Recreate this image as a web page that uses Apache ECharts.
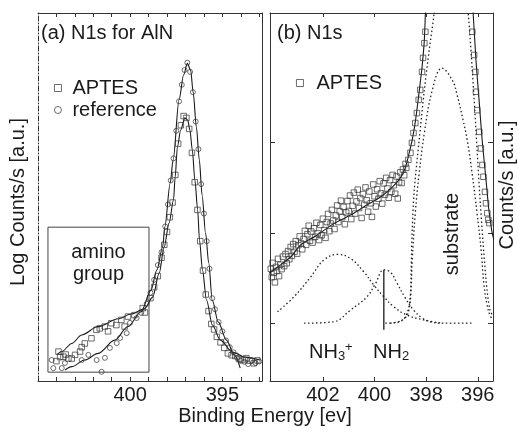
<!DOCTYPE html>
<html>
<head>
<meta charset="utf-8">
<script src="https://cdn.jsdelivr.net/npm/echarts@6/dist/echarts.min.js"></script>
<style>
  html, body { margin: 0; padding: 0; background: #fff; }
  #main { width: 518px; height: 434px; }
</style>
</head>
<body>
<div id="main"></div>
<script>
// panel (a): binding energy [eV], log counts in % of panel height
var aAptesPts = [
    [404.0, 5.4], [403.89, 8.0], [403.8, 6.5], [403.62, 6.6], [403.5, 7.2], [403.35, 6.1], [403.17, 6.1],
    [402.99, 7.1], [402.72, 8.0], [402.63, 9.2], [402.46, 10.2], [402.1, 11.6], [401.83, 13.9],
    [401.65, 14.3], [401.38, 14.8], [401.2, 13.5], [401.02, 15.7], [400.75, 15.2], [400.48, 16.6],
    [400.3, 14.8], [400.12, 17.5], [399.77, 17.9], [399.32, 19.8], [399.2, 18.6],
    [398.9, 22.5], [398.7, 25.5], [398.5, 28.5], [398.3, 33.5], [398.15, 37.0], [398.0, 40.5],
    [397.85, 44.5], [397.7, 48.5], [397.55, 56.0], [397.4, 64.5], [397.25, 69.5], [397.1, 72.0],
    [396.95, 71.5], [396.8, 68.5], [396.65, 62.0], [396.5, 54.0], [396.35, 46.5], [396.2, 38.0],
    [396.05, 30.0], [395.9, 23.5], [395.75, 19.0], [395.6, 15.5], [395.45, 14.0], [395.3, 12.0],
    [395.1, 10.5], [394.9, 9.0], [394.7, 7.5], [394.5, 7.0], [394.3, 6.8], [394.1, 6.0],
    [393.9, 5.7], [393.7, 6.2], [393.5, 5.5], [393.3, 4.8], [393.1, 5.6]
];
var aRefPts = [
    [404.26, 5.7], [404.17, 3.5], [403.71, 3.5], [403.54, 4.9], [402.63, 5.7], [402.27, 7.1],
    [401.82, 5.7], [401.55, 2.5], [401.37, 6.3], [401.1, 9.0], [400.73, 10.3], [400.55, 11.7],
    [400.19, 13.0], [400.01, 15.8], [399.65, 17.1],
    [399.4, 18.5], [399.1, 21.0], [398.9, 24.0], [398.7, 27.5], [398.5, 31.5], [398.3, 35.0],
    [398.1, 42.0], [397.95, 48.0], [397.8, 54.5], [397.65, 60.5], [397.5, 68.0], [397.35, 76.0],
    [397.2, 80.5], [397.05, 84.5], [396.9, 86.5], [396.75, 84.0], [396.6, 78.5], [396.45, 70.5],
    [396.3, 63.0], [396.15, 53.5], [396.0, 45.5], [395.85, 38.0], [395.7, 30.5], [395.55, 22.5],
    [395.4, 19.5], [395.2, 16.0], [395.0, 13.5], [394.8, 11.0], [394.6, 9.2], [394.4, 7.8],
    [394.2, 6.3], [394.0, 5.5], [393.8, 5.2], [393.6, 4.6], [393.4, 5.6], [393.2, 4.9], [393.0, 5.3]
];
var aAptesFit = [
    [403.98, 7.1], [403.71, 8.0], [403.17, 10.2], [402.63, 12.5], [401.74, 14.8], [400.65, 16.9],
    [399.95, 18.2], [399.23, 19.6], [398.78, 22.8], [398.42, 29.4], [398.16, 36.4], [397.89, 42.9],
    [397.65, 49.2], [397.56, 55.4], [397.44, 63.6], [397.26, 68.2], [397.03, 71.5], [396.88, 70.9],
    [396.76, 68.2], [396.63, 62.8], [396.49, 54.6], [396.34, 46.5], [396.24, 38.3], [396.08, 30.2],
    [395.86, 22.0], [395.54, 15.2], [395.11, 11.1], [394.46, 7.9], [393.76, 6.5], [392.96, 5.7]
];
var aRefFit = [
    [403.53, 3.0], [403.17, 3.9], [402.46, 5.7], [401.74, 7.5], [400.84, 11.1], [400.12, 14.8],
    [399.41, 18.8], [398.87, 24.7], [398.55, 30.2], [398.24, 36.4], [398.12, 41.9], [397.83, 53.8],
    [397.67, 60.1], [397.35, 76.4], [397.1, 83.2], [396.9, 86.3], [396.72, 84.5], [396.58, 78.3],
    [396.41, 69.0], [396.25, 60.1], [396.1, 50.5], [395.91, 40.2], [395.74, 32.1], [395.55, 22.0],
    [395.22, 16.0], [394.78, 11.1], [394.35, 7.1], [394.03, 3.5]
];
var aminoBox = [[404.46, 41.8], [398.98, 2.4]];

// panel (b): counts in % of panel height
var bAptesPts = [
    [404.02, 30.5], [403.98, 28.2], [403.95, 32.1], [403.9, 29.4], [403.86, 26.8], [403.82, 31.0],
    [403.78, 29.9], [403.74, 33.2], [403.7, 28.5], [403.65, 31.6], [403.6, 30.4], [403.55, 33.8],
    [403.5, 31.2], [403.45, 34.5], [403.4, 32.0], [403.35, 35.3], [403.3, 33.1], [403.25, 36.4],
    [403.2, 34.0], [403.15, 37.2], [403.1, 35.1], [403.05, 38.0], [403.0, 34.6], [402.95, 36.9],
    [402.9, 39.3], [402.85, 37.4], [402.8, 35.8], [402.75, 38.6], [402.7, 40.8], [402.65, 37.0],
    [402.6, 39.9], [402.55, 42.2], [402.5, 38.1], [402.45, 40.6], [402.4, 37.6], [402.35, 41.5],
    [402.3, 39.2], [402.25, 43.0], [402.2, 40.1], [402.15, 38.3], [402.1, 42.4], [402.05, 39.6],
    [402.0, 44.1], [401.95, 41.0], [401.9, 38.9], [401.85, 43.2], [401.8, 45.4], [401.75, 40.7],
    [401.7, 42.8], [401.65, 46.5], [401.6, 43.6], [401.55, 41.3], [401.5, 45.0], [401.45, 47.7],
    [401.4, 43.2], [401.35, 46.1], [401.3, 49.0], [401.25, 44.5], [401.2, 47.3], [401.15, 42.6],
    [401.1, 45.8], [401.05, 48.9], [401.0, 46.2], [400.95, 50.4], [400.9, 44.0], [400.85, 47.6],
    [400.8, 51.2], [400.75, 45.5], [400.7, 48.8], [400.65, 52.0], [400.6, 47.0], [400.55, 49.7],
    [400.5, 44.3], [400.45, 50.8], [400.4, 47.9], [400.35, 52.6], [400.3, 49.1], [400.25, 46.0],
    [400.2, 51.5], [400.15, 48.3], [400.1, 44.6], [400.05, 53.4], [400.0, 50.2], [399.95, 47.4],
    [399.9, 52.1], [399.85, 49.5], [399.8, 54.3], [399.75, 51.0], [399.7, 48.2], [399.65, 53.7],
    [399.6, 50.6], [399.55, 55.2], [399.5, 52.3], [399.45, 49.8], [399.4, 54.6], [399.35, 51.4],
    [399.3, 56.0], [399.25, 53.2], [399.2, 50.9], [399.15, 55.6], [399.1, 49.6], [399.05, 54.0],
    [399.0, 56.7], [398.95, 53.8], [398.9, 57.5], [398.85, 55.9], [398.8, 59.0], [398.77, 57.9],
    [398.69, 60.1], [398.61, 62.0], [398.55, 64.7], [398.49, 67.4], [398.42, 70.1], [398.36, 72.8],
    [398.29, 76.4], [398.23, 79.1], [398.16, 84.0], [398.12, 87.8], [398.07, 91.8], [398.03, 94.9],
    [396.21, 94.9], [396.14, 88.6], [396.09, 84.0], [396.07, 78.6], [396.02, 73.6], [395.94, 67.7],
    [395.88, 63.2], [395.82, 58.7], [395.78, 55.5], [395.72, 51.4], [395.68, 48.3], [395.63, 45.6],
    [395.59, 43.8], [395.55, 42.9]
];
var bTotalFit = [
    [404.1, 29.3], [404.02, 29.6], [403.75, 31.0], [403.25, 33.7], [402.86, 37.0], [402.28, 39.4],
    [401.59, 42.7], [400.93, 45.1], [400.35, 47.6], [399.77, 50.0], [399.31, 52.7], [399.0, 55.2],
    [398.81, 57.9], [398.65, 62.2], [398.54, 65.5], [398.42, 70.4], [398.31, 76.4], [398.23, 81.0],
    [398.15, 85.9], [398.07, 92.7], [398.03, 100], [397.98, 112], [397.0, 140], [396.3, 112],
    [396.18, 100], [396.07, 87.2], [395.95, 76.4], [395.83, 65.5], [395.68, 54.6], [395.57, 46.5],
    [395.45, 40.5], [395.38, 38.5]
];
var bNH3 = [
    [403.76, 18.8], [403.12, 22.9], [402.47, 28.3], [401.96, 32.9], [401.42, 34.4], [400.93, 33.3],
    [400.42, 29.7], [400.03, 26.1], [399.64, 22.9], [399.26, 20.2], [398.74, 17.9], [398.1, 16.6],
    [397.46, 15.8]
];
var bNH2 = [
    [402.73, 15.7], [401.58, 16.1], [400.93, 19.3], [400.29, 22.9], [399.97, 26.4], [399.64, 30.2],
    [399.39, 29.6], [399.13, 26.6], [398.81, 22.6], [398.49, 19.3], [398.15, 17.1], [397.84, 16.1],
    [397.33, 15.7], [396.22, 15.7]
];
var bSubA = [
    [399.39, 15.7], [399.0, 16.3], [398.73, 17.9], [398.61, 22.0], [398.58, 30.2], [398.54, 41.0],
    [398.46, 51.9], [398.27, 65.5], [398.07, 79.1], [397.88, 90.0], [397.69, 100], [397.5, 115],
    [396.6, 115], [396.37, 100], [396.14, 76.4], [395.91, 49.2], [395.68, 27.5], [395.53, 19.3],
    [395.41, 17.7]
];
var bSubB = [
    [399.58, 15.7], [399.08, 16.0], [398.77, 17.9], [398.61, 23.4], [398.54, 32.9], [398.42, 45.7],
    [398.27, 56.5], [398.07, 67.4], [397.76, 79.1], [397.39, 85.0], [396.99, 81.8], [396.8, 77.7],
    [396.57, 70.9], [396.41, 65.5], [396.22, 56.5], [396.03, 45.7], [395.87, 35.6], [395.76, 26.1],
    [395.64, 20.7], [395.53, 17.9], [395.41, 16.6]
];
var nh2Marker = [[399.64, 30.2], [399.64, 13.9]];

var aTicks = [393, 394, 395, 396, 397, 398, 399, 400, 401, 402, 403, 404];
var aLabels = [395, 400];
var bTicks = [396, 398, 400, 402];
var bYTicks = [15.7, 40.2, 64.9];

var FONT = '"Liberation Sans", Arial, sans-serif';
var INK = '#1a1a1a';
var chart = echarts.init(document.getElementById('main'), null, {renderer: 'canvas'});

function xAx(grid, pos, min, max, ticks, labels) {
    return {
        type: 'value', gridIndex: grid, position: pos, inverse: true, min: min, max: max,
        axisLine: {onZero: false, lineStyle: {color: '#333', width: 1}},
        axisTick: {inside: true, length: 4, customValues: ticks, lineStyle: {color: '#333'}},
        axisLabel: labels ? {customValues: labels, fontSize: 20, fontFamily: FONT, color: INK, margin: 4} : {show: false},
        splitLine: {show: false}
    };
}
function yAx(grid, pos, ticks, dashed) {
    return {
        type: 'value', gridIndex: grid, position: pos, min: 0, max: 100,
        axisLine: {show: true, onZero: false, lineStyle: {color: '#333', width: 1, type: dashed ? [5, 2, 1, 2] : 'solid'}},
        axisTick: ticks ? {show: true, inside: true, length: 5, customValues: ticks, lineStyle: {color: '#333'}} : {show: false},
        axisLabel: {show: false},
        splitLine: {show: false}
    };
}
var hollow = {color: 'rgba(0,0,0,0)', borderColor: '#333', borderWidth: 0.9};
var dotted = {color: '#222', width: 1.3, type: [1.5, 2.5]};

var option = {
    backgroundColor: '#fff',
    animation: false,
    grid: [
        {left: 38, top: 13, width: 224, height: 368},
        {left: 270, top: 13, width: 223, height: 368}
    ],
    xAxis: [
        xAx(0, 'bottom', 392.85, 405, aTicks, aLabels),
        xAx(0, 'top', 392.85, 405, aTicks, null),
        xAx(1, 'bottom', 395.41, 404.05, bTicks, bTicks),
        xAx(1, 'top', 395.41, 404.05, bTicks, null)
    ],
    yAxis: [
        yAx(0, 'left', null, true),
        yAx(0, 'right', null, false),
        yAx(1, 'left', bYTicks, false),
        yAx(1, 'right', bYTicks, false)
    ],
    legend: [
        {
            left: 49, top: 72, orient: 'vertical', itemGap: 0, itemWidth: 7, itemHeight: 7,
            data: [{name: 'APTES', icon: 'rect'}, {name: 'reference', icon: 'circle'}],
            itemStyle: hollow,
            textStyle: {fontSize: 20, fontFamily: FONT, color: INK, lineHeight: 22, padding: [0, 0, 0, 6]}
        },
        {
            left: 291, top: 67, itemWidth: 7, itemHeight: 7,
            data: [{name: 'APTES', icon: 'rect'}],
            itemStyle: hollow,
            textStyle: {fontSize: 20, fontFamily: FONT, color: INK, lineHeight: 22, padding: [0, 0, 0, 8]}
        }
    ],
    series: [
        {
            name: 'APTES fit a', type: 'line', xAxisIndex: 0, yAxisIndex: 0, data: aAptesFit,
            smooth: 0.3, smoothMonotone: 'x', symbol: 'none', lineStyle: {color: INK, width: 1.1}, z: 3
        },
        {
            name: 'reference fit a', type: 'line', xAxisIndex: 0, yAxisIndex: 0, data: aRefFit,
            smooth: 0.3, smoothMonotone: 'x', symbol: 'none', lineStyle: {color: INK, width: 1.1}, z: 3,
            markArea: {
                silent: true,
                itemStyle: {color: 'rgba(0,0,0,0)', borderColor: '#444', borderWidth: 1},
                label: {
                    show: true, position: 'insideTop', distance: 15, formatter: 'amino\ngroup',
                    fontSize: 20, lineHeight: 22, fontFamily: FONT, color: INK
                },
                data: [[{coord: aminoBox[0]}, {coord: aminoBox[1]}]]
            }
        },
        {
            name: 'APTES', type: 'scatter', xAxisIndex: 0, yAxisIndex: 0, data: aAptesPts,
            symbol: 'rect', symbolSize: 5.5, itemStyle: hollow, z: 4
        },
        {
            name: 'reference', type: 'scatter', xAxisIndex: 0, yAxisIndex: 0, data: aRefPts,
            symbol: 'circle', symbolSize: 5, itemStyle: hollow, z: 4
        },
        {
            name: 'NH3+', type: 'line', xAxisIndex: 2, yAxisIndex: 2, data: bNH3,
            smooth: 0.4, symbol: 'none', lineStyle: dotted
        },
        {
            name: 'NH2', type: 'line', xAxisIndex: 2, yAxisIndex: 2, data: bNH2,
            smooth: 0.4, symbol: 'none', lineStyle: dotted
        },
        {
            name: 'substrate A', type: 'line', xAxisIndex: 2, yAxisIndex: 2, data: bSubA,
            smooth: 0.3, symbol: 'none', lineStyle: dotted
        },
        {
            name: 'substrate B', type: 'line', xAxisIndex: 2, yAxisIndex: 2, data: bSubB,
            smooth: 0.4, symbol: 'none', lineStyle: dotted
        },
        {
            name: 'NH2 position', type: 'line', xAxisIndex: 2, yAxisIndex: 2, data: nh2Marker,
            symbol: 'none', lineStyle: {color: INK, width: 1.3}
        },
        {
            name: 'APTES fit b', type: 'line', xAxisIndex: 2, yAxisIndex: 2, data: bTotalFit,
            smooth: 0.3, symbol: 'none', lineStyle: {color: INK, width: 1.1}, z: 3
        },
        {
            name: 'APTES', type: 'scatter', xAxisIndex: 2, yAxisIndex: 2, data: bAptesPts,
            symbol: 'rect', symbolSize: 5.5, itemStyle: hollow, z: 4
        }
    ],
    graphic: [
        {type: 'text', x: 41, y: 33, style: {text: '(a) N1s for AlN', font: '20px ' + FONT, fill: INK, verticalAlign: 'middle'}},
        {type: 'text', x: 277, y: 33, style: {text: '(b) N1s', font: '20px ' + FONT, fill: INK, verticalAlign: 'middle'}},
        {type: 'text', x: 18, y: 202, rotation: Math.PI / 2,
            style: {text: 'Log Counts/s [a.u.]', font: '20px ' + FONT, fill: INK, align: 'center', verticalAlign: 'middle'}},
        {type: 'text', x: 507, y: 185, rotation: Math.PI / 2,
            style: {text: 'Counts/s [a.u.]', font: '20px ' + FONT, fill: INK, align: 'center', verticalAlign: 'middle'}},
        {type: 'text', x: 265, y: 416,
            style: {text: 'Binding Energy [ev]', font: '20px ' + FONT, fill: INK, align: 'center', verticalAlign: 'middle'}},
        {type: 'text', x: 452, y: 234, rotation: Math.PI / 2,
            style: {text: 'substrate', font: '20px ' + FONT, fill: INK, align: 'center', verticalAlign: 'middle'}},
        {type: 'text', x: 309, y: 352, style: {
            text: 'NH{sub|3}{sup|+}', font: '20px ' + FONT, fill: INK, verticalAlign: 'middle',
            rich: {sub: {fontSize: 13, fontFamily: FONT, padding: [9, 0, 0, 0]}, sup: {fontSize: 13, fontFamily: FONT, padding: [0, 0, 9, 0]}}
        }},
        {type: 'text', x: 373, y: 352, style: {
            text: 'NH{sub|2}', font: '20px ' + FONT, fill: INK, verticalAlign: 'middle',
            rich: {sub: {fontSize: 13, fontFamily: FONT, padding: [9, 0, 0, 0]}}
        }}
    ]
};
chart.setOption(option);
</script>
</body>
</html>
